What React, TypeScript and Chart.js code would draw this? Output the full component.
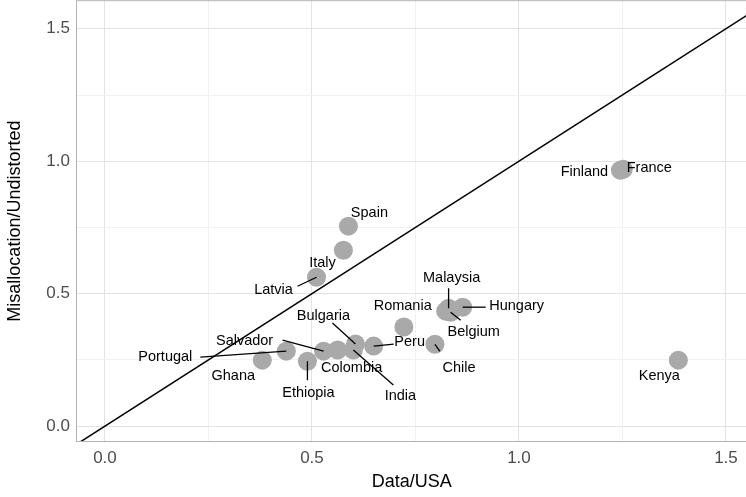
import { useEffect, useRef } from 'react';
import { Chart, registerables } from 'chart.js';

Chart.register(...registerables);

const countries = ['Ghana', 'Portugal', 'Ethiopia', 'Salvador', 'Colombia', 'Bulgaria', 'India', 'Peru', '', 'Chile', 'Romania', 'Malaysia', 'Belgium', 'Hungary', 'Latvia', 'Italy', 'Spain', 'Finland', 'France', 'Kenya'];
const dataUSA = [0.38, 0.438, 0.489, 0.528, 0.562, 0.605, 0.6, 0.649, 0.722, 0.797, 0.823, 0.83, 0.835, 0.864, 0.511, 0.576, 0.588, 1.245, 1.252, 1.385];
const misalloc = [0.249, 0.283, 0.245, 0.283, 0.287, 0.31, 0.287, 0.302, 0.374, 0.309, 0.434, 0.445, 0.43, 0.449, 0.562, 0.664, 0.755, 0.966, 0.97, 0.249];
// label offsets from point in px: [textDx, textDy, segStartDx, segStartDy]
const labelOffsets: (number[] | null)[] = [
  [-29, 16],
  [-121, 6, -86, 6],
  [1, 32, 0, 19],
  [-79, -10, -41, -11],
  [14, 18],
  [-32, -28, -23, -21],
  [47, 46, 40, 35],
  [36, -4, 20, -2],
  null,
  [24, 24, 5, 7],
  [-43, -5],
  [3, -30, 0, -20],
  [23, 20, 10, 8],
  [54, -1, 23, 0],
  [-43, 13, -19, 9],
  [-21, 13],
  [21, -13],
  [-36, 2],
  [26, -1],
  [-19, 16],
];

const labelPlugin = {
  id: 'repelLabels',
  afterDatasetsDraw(chart: any) {
    const { ctx, scales, chartArea } = chart;
    ctx.save();
    ctx.strokeStyle = '#b3b3b3';
    ctx.lineWidth = 1;
    ctx.strokeRect(chartArea.left + 0.5, chartArea.top + 0.5, chartArea.right - chartArea.left - 1, chartArea.bottom - chartArea.top - 1);
    ctx.font = '14.5px "Liberation Sans", Arial, sans-serif';
    ctx.fillStyle = '#000';
    ctx.textAlign = 'center';
    ctx.textBaseline = 'middle';
    ctx.strokeStyle = '#000';
    ctx.lineWidth = 1.3;
    countries.forEach((name, i) => {
      const off = labelOffsets[i];
      if (!off || !name) return;
      const px = scales.x.getPixelForValue(dataUSA[i]);
      const py = scales.y.getPixelForValue(misalloc[i]);
      if (off.length > 2) {
        ctx.beginPath();
        ctx.moveTo(px + off[2], py + off[3]);
        ctx.lineTo(px, py);
        ctx.stroke();
      }
      ctx.fillText(name, px + off[0], py + off[1]);
    });
    ctx.restore();
  },
};

export default function App() {
  const ref = useRef<HTMLCanvasElement>(null);
  useEffect(() => {
    document.body.style.margin = '0';
    document.body.style.overflow = 'hidden';
    if (!ref.current) return;
    const isMajor = (v: number) => Math.abs((v * 2) % 1) < 1e-6;
    const gridColor = (c: any) => (isMajor(c.tick.value) ? '#e3e3e3' : '#f1f1f1');
    const tickFont = { size: 17, family: '"Liberation Sans", Arial' };
    const titleFont = { size: 18, family: '"Liberation Sans", Arial' };
    const chart = new Chart(ref.current, {
      type: 'scatter',
      data: {
        datasets: [
          {
            type: 'line',
            data: [{ x: -0.1, y: -0.1 }, { x: 1.7, y: 1.7 }],
            borderColor: '#000',
            borderWidth: 1.5,
            pointRadius: 0,
          } as any,
          {
            data: dataUSA.map((x, i) => ({ x, y: misalloc[i] })),
            backgroundColor: '#a9a9a9',
            borderWidth: 0,
            pointRadius: 9.5,
          },
        ],
      },
      plugins: [labelPlugin],
      options: {
        animation: false,
        responsive: false,
        plugins: { legend: { display: false }, tooltip: { enabled: false } },
        scales: {
          x: {
            type: 'linear', min: -0.07, max: 1.552,
            afterBuildTicks: (s: any) => { s.ticks = [0, 0.25, 0.5, 0.75, 1, 1.25, 1.5].map(v => ({ value: v })); },
            afterFit: (s: any) => { s.height = 55; },
            border: { display: false },
            grid: { color: gridColor, drawTicks: false },
            ticks: {
              padding: 6, color: '#4d4d4d', font: tickFont,
              callback: (v: any) => (isMajor(v) ? Number(v).toFixed(1) : ''),
            },
            title: { display: true, text: 'Data/USA', color: '#000', font: titleFont, padding: { top: 8 } },
          },
          y: {
            type: 'linear', min: -0.06, max: 1.608,
            afterBuildTicks: (s: any) => { s.ticks = [0, 0.25, 0.5, 0.75, 1, 1.25, 1.5].map(v => ({ value: v })); },
            afterFit: (s: any) => { s.width = 76; },
            border: { display: false },
            grid: { color: gridColor, drawTicks: false },
            ticks: {
              padding: 6, color: '#4d4d4d', font: tickFont,
              callback: (v: any) => (isMajor(v) ? Number(v).toFixed(1) : ''),
            },
            title: { display: true, text: 'Misallocation/Undistorted', color: '#000', font: titleFont, padding: { bottom: 2 } },
          },
        },
      },
    } as any);
    return () => chart.destroy();
  }, []);
  return (
    <div style={{ width: 746, height: 497, overflow: 'hidden' }}>
      <canvas ref={ref} width={757} height={513} style={{ display: 'block', marginTop: -16 }} />
    </div>
  );
}
